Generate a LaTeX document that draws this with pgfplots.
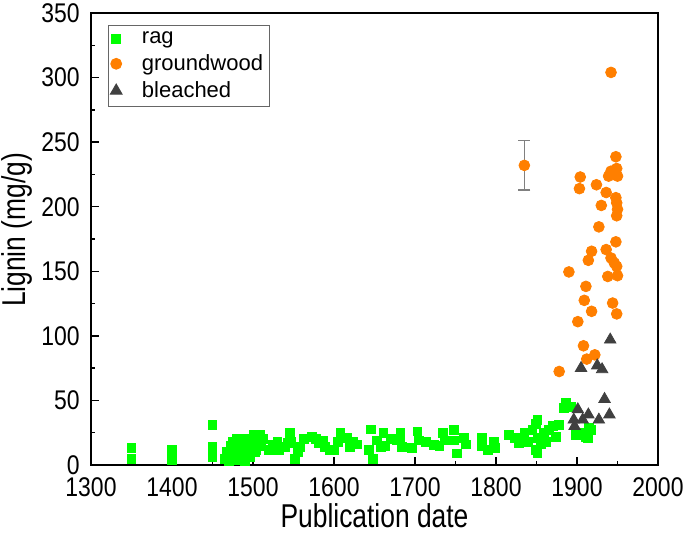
\documentclass[border=0pt]{standalone}
\usepackage{pgfplots}
\pgfplotsset{compat=1.18}
\usepackage{fontspec}
\setmainfont{Liberation Sans}
\newfontfamily\ticknarrow{Liberation Sans}[FakeStretch=0.85]
\newfontfamily\labelnarrow{Liberation Sans}[FakeStretch=0.8]
\definecolor{ragc}{RGB}{0,255,0}
\definecolor{gwc}{RGB}{255,127,0}
\definecolor{blc}{RGB}{64,64,64}
\begin{document}
\begin{tikzpicture}
\useasboundingbox (-45.5pt,-37.5pt) rectangle (297pt,232.5pt);
\begin{axis}[
  scale only axis, width=283.5pt, height=226pt,
  xmin=1300, xmax=2000, ymin=0, ymax=350,
  xtick={1300,1400,...,2000}, ytick={0,50,...,350},
  minor x tick num=1, minor y tick num=1,
  tick align=inside, xtick pos=lower, ytick pos=left,
  major tick length=4pt, minor tick length=2pt,
  every tick/.style={black, line width=0.7pt},
  axis line style={line width=1pt},
  /pgf/number format/assume math mode=true,
  /pgf/number format/1000 sep={},
  tick label style={font=\ticknarrow\fontsize{13.5}{15}\selectfont},
  xticklabel style={inner sep=0pt, yshift=-6pt},
  yticklabel style={inner sep=0pt, xshift=-5.5pt},
  label style={font=\labelnarrow\fontsize{16.5}{18}\selectfont},
  xlabel={Publication date}, ylabel={Lignin (mg/g)},
  xlabel style={at={(axis description cs:0.5,-0.113)}, anchor=center},
  ylabel style={at={(axis description cs:-0.1305,0.52)}, anchor=center},
  legend style={at={(8.5pt,220pt)}, anchor=north west, draw=black!60, line width=0.5pt,
    font=\fontsize{11}{12.5}\selectfont, inner xsep=1pt, inner ysep=1pt,
    /tikz/every odd column/.append style={column sep=8pt}},
  legend image post style={xshift=8.5pt},
  legend cell align=left,
]
\addplot[forget plot, only marks, mark=none, error bars/.cd, y dir=both, y explicit,
  error bar style={black!50, line width=0.6pt}, error mark options={black!50, rotate=90, mark size=3pt, line width=0.6pt}]
  coordinates {(1835,232) +- (0,19)};
\addplot[only marks, mark=square*, mark size=2.2pt, color=ragc] coordinates {
(1350,5)(1350,13)(1400,4)(1400,12)(1450,6)(1450,14)(1450,31)
(1465,5)(1468,10)(1470,3)(1472,15)(1475,8)(1475,18)(1478,12)(1480,4)(1480,20)(1483,16)
(1485,8)(1487,12)(1488,19)(1490,3)(1490,17)(1492,20)(1493,9)(1494,10)(1496,6)(1497,14)
(1500,18)(1501,23)(1502,10)(1504,12)(1505,22)(1509,23)(1510,15)(1512,20)
(1520,12)(1525,15.5)(1530,18)(1532,11.6)(1540,14)(1543,17)(1546,24.6)(1547,18)(1552,5)
(1555,10)(1558,14)(1563,20)
(1573,22)(1578,20)(1581,17)(1587,19)(1589,14)(1595,12)(1600,11.6)(1605,18)
(1608,24.6)(1616,20.7)(1620,14)(1624,18)(1628,16)
(1643,11.6)(1646,27.6)(1648,5)(1653,19)(1658,14)(1661,24.6)(1663,15)(1670,20)(1678,19)
(1682,24.6)(1682,19)(1684,14)(1696,13)(1703,26)(1705,19)(1713,18)(1723,15.5)(1730,15)
(1734,24.6)(1737,19)(1748,27)(1748,19)(1752,9)(1760,20.7)(1763,16)(1783,20.7)(1783,15)
(1790,12)(1797,18)(1799,13)(1816,23)(1823,21)(1828,17)(1835,24.6)(1840,18)(1845,27)
(1849,32)(1851,35)(1851,21)(1849,11.6)(1851,9)(1855,16)(1859,25)(1862,18)(1865,27)(1870,30)
(1874,22)(1878,31)(1884,44)(1886,48)(1892,45)(1898,23)(1900,23)(1905,25)(1911,22)
(1913,20.7)(1915,28.5)(1917,27)
};
\addlegendentry{rag}
\addplot[only marks, mark=*, mark size=2.7pt, color=gwc] coordinates {
(1835,232)(1942,304)
(1948,238.7)(1942,227.5)(1949,229.6)(1950,223.7)(1939,223.7)(1904,223)(1903,214)(1924,217)
(1936,211)(1948,207)(1949,203)(1950,198)(1949,193)(1930,201)(1927,184.4)(1948,172.8)
(1918,165.5)(1914,158.5)(1936,166.8)(1942,160.3)(1946,156.5)(1949,153.8)(1890,149.5)
(1938,146)(1950,146.6)(1911,138.3)(1909,127.5)(1944,125.4)(1918,119)(1949,117)(1901,111)
(1908,92.3)(1922,85.3)(1912,82)(1878,72.4)
};
\addlegendentry{groundwood}
\addplot[only marks, mark=triangle*, mark size=3.3pt, color=blc] coordinates {
(1941,97)(1905,75)(1925,77)(1931,74)(1934,51)(1901,43)(1914,39)(1927,35)(1940,39)
(1896,35)(1897,30)(1907,35)
};
\addlegendentry{bleached}
\end{axis}
\end{tikzpicture}
\end{document}
